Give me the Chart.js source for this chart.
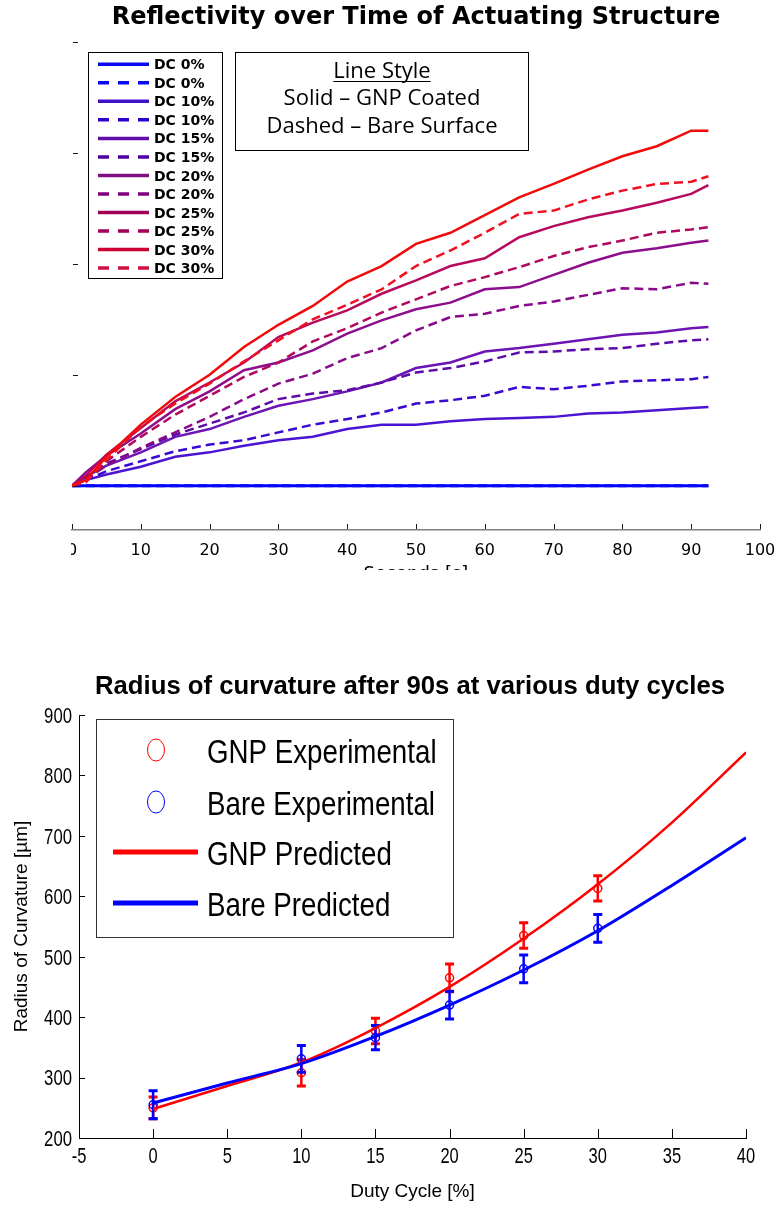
<!DOCTYPE html>
<html>
<head>
<meta charset="utf-8">
<script src="https://cdn.jsdelivr.net/npm/chart.js@4.4.1/dist/chart.umd.min.js"></script>
<style>
  body { margin: 0; background: #fff; width: 781px; height: 1209px; position: relative; overflow: hidden; }
  #topWrap { position: absolute; left: 0; top: 0; width: 781px; height: 570px; overflow: hidden; }
  #topWrap canvas { position: absolute; left: 0; top: 0; }
  #radiusChart { position: absolute; left: 0; top: 640px; }
</style>
</head>
<body>
<div id="topWrap"><canvas id="reflChart" width="781" height="600"></canvas></div>
<canvas id="radiusChart" width="781" height="569"></canvas>
<script>
// ---- top chart: reflectivity vs time (unlabelled y units)
const seconds = [0, 2, 5, 10, 15, 20, 25, 30, 35, 40, 45, 50, 55, 60, 65, 70, 75, 80, 85, 90, 92.5];
const dc0Gnp   = [0, 0, 0, 0, 0, 0, 0, 0, 0, 0, 0, 0, 0, 0, 0, 0, 0, 0, 0, 0, 0];
const dc0Bare  = [0, 0, 0, 0, 0, 0, 0, 0, 0, 0, 0, 0, 0, 0, 0, 0, 0, 0, 0, 0, 0];
const dc10Gnp  = [0, 0.05, 0.10, 0.17, 0.26, 0.30, 0.36, 0.41, 0.44, 0.51, 0.55, 0.55, 0.58, 0.60, 0.61, 0.62, 0.65, 0.66, 0.68, 0.70, 0.71];
const dc10Bare = [0, 0.05, 0.13, 0.22, 0.31, 0.37, 0.41, 0.48, 0.55, 0.60, 0.66, 0.74, 0.77, 0.81, 0.89, 0.87, 0.90, 0.94, 0.95, 0.96, 0.98];
const dc15Gnp  = [0, 0.08, 0.18, 0.30, 0.44, 0.51, 0.62, 0.72, 0.78, 0.85, 0.93, 1.06, 1.11, 1.21, 1.24, 1.28, 1.32, 1.36, 1.38, 1.42, 1.43];
const dc15Bare = [0, 0.07, 0.20, 0.33, 0.46, 0.56, 0.66, 0.78, 0.83, 0.86, 0.93, 1.02, 1.06, 1.12, 1.20, 1.21, 1.23, 1.24, 1.28, 1.31, 1.32];
const dc20Gnp  = [0, 0.12, 0.27, 0.47, 0.69, 0.85, 1.04, 1.11, 1.22, 1.37, 1.49, 1.59, 1.65, 1.77, 1.79, 1.90, 2.01, 2.10, 2.14, 2.19, 2.21];
const dc20Bare = [0, 0.06, 0.18, 0.34, 0.48, 0.62, 0.78, 0.92, 1.01, 1.15, 1.24, 1.40, 1.52, 1.55, 1.62, 1.66, 1.72, 1.78, 1.77, 1.83, 1.82];
const dc25Gnp  = [0, 0.09, 0.28, 0.52, 0.76, 0.93, 1.11, 1.34, 1.47, 1.58, 1.73, 1.85, 1.98, 2.05, 2.24, 2.34, 2.42, 2.48, 2.55, 2.63, 2.71];
const dc25Bare = [0, 0.05, 0.22, 0.44, 0.64, 0.81, 0.98, 1.11, 1.30, 1.42, 1.56, 1.68, 1.80, 1.88, 1.97, 2.07, 2.15, 2.21, 2.28, 2.31, 2.33];
const dc30Gnp  = [0, 0.05, 0.26, 0.55, 0.80, 1.00, 1.25, 1.45, 1.62, 1.84, 1.98, 2.18, 2.28, 2.44, 2.60, 2.72, 2.85, 2.97, 3.06, 3.20, 3.20];
const dc30Bare = [0, 0.03, 0.23, 0.53, 0.74, 0.92, 1.12, 1.31, 1.50, 1.63, 1.77, 1.98, 2.12, 2.28, 2.45, 2.48, 2.58, 2.66, 2.72, 2.74, 2.79];
const dcLabels = ['DC 0%', 'DC 0%', 'DC 10%', 'DC 10%', 'DC 15%', 'DC 15%', 'DC 20%', 'DC 20%', 'DC 25%', 'DC 25%', 'DC 30%', 'DC 30%'];
const reflYTicks = [0, 1, 2, 3, 4];

// ---- bottom chart: radius of curvature vs duty cycle
const dutyCycle = [0, 10, 15, 20, 25, 30];
const gnpExp  = [250, 308, 377, 465, 535, 613];
const gnpErr  = [18, 22, 21, 23, 21, 21];
const bareExp = [255, 331, 366, 420, 480, 547];
const bareErr = [23, 22, 20, 23, 23, 23];
const predDuty = [0, 5, 10, 15, 20, 25, 30, 35, 40];
const gnpPred  = [248, 286, 325, 382, 450, 530, 620, 722, 838];
const barePred = [258, 291, 323, 368, 420, 478, 543, 618, 697];

const reflSeries = [dc0Gnp, dc0Bare, dc10Gnp, dc10Bare, dc15Gnp, dc15Bare, dc20Gnp, dc20Bare, dc25Gnp, dc25Bare, dc30Gnp, dc30Bare];
const lineColors = ['#0000ff', '#0a0af2', '#4a14d2', '#3a08d0', '#6c14b4', '#5c0aa8', '#8c0e8c', '#880a88', '#b80a5c', '#b0085e', '#f00a0a', '#ee1020'];
const legendColors = ['#0a0af0', '#0a0af0', '#4010c8', '#3000cc', '#6010a8', '#5000a0', '#801080', '#800080', '#a00058', '#a00058', '#cc0030', '#d01040'];

const sans = '"Liberation Sans", Arial, sans-serif';
const pts = (xs, ys) => ys.map((v, i) => ({ x: xs[i], y: v }));

// the matlab export uses a condensed face; squeeze Liberation Sans to match
function squeezed(ctx, text, x, y, factor, align) {
  ctx.save();
  ctx.translate(x, y);
  ctx.scale(factor, 1);
  ctx.textAlign = align;
  ctx.fillText(text, 0, 0);
  ctx.restore();
}

// legend boxes + inward ticks for the top chart
const reflDecor = {
  id: 'reflDecor',
  afterDraw(chart) {
    const { ctx, chartArea: area, scales: { x, y } } = chart;
    ctx.save();
    // source image was cropped just left of the plot
    ctx.fillStyle = '#fff';
    ctx.fillRect(0, area.bottom + 2, area.left - 1, chart.height - area.bottom);

    ctx.strokeStyle = '#1a1a1a';
    ctx.lineWidth = 1;
    ctx.beginPath();
    x.ticks.forEach(t => {
      const px = Math.round(x.getPixelForValue(t.value)) + 0.5;
      ctx.moveTo(px, area.bottom - 1);
      ctx.lineTo(px, area.bottom - 6);
    });
    reflYTicks.forEach(v => {
      const py = Math.round(y.getPixelForValue(v)) + 0.5;
      ctx.moveTo(area.left + 1, py);
      ctx.lineTo(area.left + 6, py);
    });
    ctx.stroke();

    // series legend
    ctx.fillStyle = '#fff';
    ctx.fillRect(88, 52, 134, 226);
    ctx.strokeStyle = '#000';
    ctx.strokeRect(88.5, 52.5, 134, 226);
    ctx.font = 'bold 14px "DejaVu Sans"';
    ctx.textBaseline = 'alphabetic';
    ctx.textAlign = 'left';
    chart.data.datasets.forEach((ds, i) => {
      const cy = 64.3 + i * 18.52;
      ctx.strokeStyle = legendColors[i];
      ctx.lineWidth = 3.5;
      ctx.setLineDash(ds.borderDash.length ? [11, 9] : []);
      ctx.beginPath();
      ctx.moveTo(98, cy);
      ctx.lineTo(149, cy);
      ctx.stroke();
      ctx.setLineDash([]);
      ctx.fillStyle = '#000';
      ctx.fillText(ds.label, 154, cy + 5.1);
    });

    // line style note
    ctx.fillStyle = '#fff';
    ctx.fillRect(235, 52, 293, 98);
    ctx.strokeStyle = '#000';
    ctx.lineWidth = 1;
    ctx.strokeRect(235.5, 52.5, 293, 98);
    ctx.fillStyle = '#000';
    ctx.font = '22px "Open Sans"';
    ctx.textAlign = 'center';
    ctx.fillText('Line Style', 382, 78.3);
    const w = ctx.measureText('Line Style').width;
    ctx.beginPath();
    ctx.moveTo(382 - w / 2, 81.5);
    ctx.lineTo(382 + w / 2, 81.5);
    ctx.stroke();
    ctx.fillText('Solid \u2013 GNP Coated', 382, 105);
    ctx.fillText('Dashed \u2013 Bare Surface', 382, 133);
    ctx.restore();
  }
};

new Chart(document.getElementById('reflChart'), {
  type: 'line',
  data: {
    datasets: reflSeries.map((vals, i) => ({
      label: dcLabels[i],
      data: pts(seconds, vals),
      borderColor: lineColors[i],
      borderWidth: i < 2 ? 3 : 2.5,
      borderDash: i % 2 ? [9, 5] : [],
      pointRadius: 0,
      tension: 0,
      order: -i
    }))
  },
  options: {
    responsive: false,
    animation: false,
    layout: { padding: { left: 72, right: 21, top: 0, bottom: 0 } },
    plugins: {
      legend: { display: false },
      tooltip: { enabled: false },
      title: {
        display: true,
        text: 'Reflectivity over Time of Actuating Structure',
        color: '#000',
        font: { family: '"DejaVu Sans"', size: 24, weight: 'bold' },
        padding: { top: 3.6, bottom: 9.6 }
      }
    },
    scales: {
      x: {
        type: 'linear', min: 0, max: 100,
        ticks: { stepSize: 10, color: '#000', font: { family: '"DejaVu Sans"', size: 16 }, padding: 3, maxRotation: 0, autoSkip: false },
        grid: { display: false },
        border: { display: true, color: '#808080', width: 1.5 },
        title: { display: true, text: 'Seconds [s]', color: '#000', font: { family: '"DejaVu Sans"', size: 18 }, padding: { top: 0, bottom: 15 } },
        afterFit: s => { s.height = 70; }
      },
      y: { display: false, min: -0.4, max: 4 }
    }
  },
  plugins: [reflDecor]
});

// error bars, tick labels, inward ticks, title and legend for the bottom chart
const radiusDecor = {
  id: 'radiusDecor',
  afterDatasetDraw(chart, args) {
    const ds = chart.data.datasets[args.index];
    if (!ds.errors) return;
    const { ctx, scales: { x, y } } = chart;
    ctx.save();
    ctx.strokeStyle = ds.borderColor;
    ds.data.forEach((p, i) => {
      const px = x.getPixelForValue(p.x);
      const top = y.getPixelForValue(p.y + ds.errors[i]);
      const bot = y.getPixelForValue(p.y - ds.errors[i]);
      ctx.lineWidth = 2.5;
      ctx.beginPath();
      ctx.moveTo(px, top);
      ctx.lineTo(px, bot);
      ctx.stroke();
      ctx.lineWidth = 3;
      ctx.beginPath();
      ctx.moveTo(px - 4.5, top);
      ctx.lineTo(px + 4.5, top);
      ctx.moveTo(px - 4.5, bot);
      ctx.lineTo(px + 4.5, bot);
      ctx.stroke();
    });
    ctx.restore();
  },
  afterDraw(chart) {
    const { ctx, chartArea: area, scales: { x, y } } = chart;
    ctx.save();
    ctx.strokeStyle = '#000';
    ctx.lineWidth = 1;
    ctx.beginPath();
    x.ticks.forEach(t => {
      const px = Math.round(x.getPixelForValue(t.value)) + 0.5;
      ctx.moveTo(px, area.bottom);
      ctx.lineTo(px, area.bottom - 9);
    });
    y.ticks.forEach(t => {
      const py = Math.round(y.getPixelForValue(t.value)) + 0.5;
      ctx.moveTo(area.left, py);
      ctx.lineTo(area.left + 6, py);
    });
    ctx.stroke();

    // tick labels
    ctx.fillStyle = '#000';
    ctx.font = '22px ' + sans;
    ctx.textBaseline = 'alphabetic';
    x.ticks.forEach(t => {
      squeezed(ctx, String(t.value), x.getPixelForValue(t.value), area.bottom + 25, 0.75, 'center');
    });
    y.ticks.forEach(t => {
      squeezed(ctx, String(t.value), area.left - 7, y.getPixelForValue(t.value) + 7.9, 0.76, 'right');
    });

    // title
    const titleText = 'Radius of curvature after 90s at various duty cycles';
    ctx.font = 'bold 26px ' + sans;
    const tw = ctx.measureText(titleText).width;
    squeezed(ctx, titleText, 410, 54.3, 630 / tw, 'center');

    // legend
    ctx.fillStyle = '#fff';
    ctx.fillRect(96, 79, 357, 218);
    ctx.strokeStyle = '#333';
    ctx.strokeRect(96.5, 79.5, 357, 218);
    const rows = [110, 162, 212, 263];
    chart.data.datasets.forEach((d, i) => {
      const cy = rows[i];
      ctx.strokeStyle = d.borderColor;
      if (d.showLine === false) {
        ctx.lineWidth = 1;
        ctx.beginPath();
        ctx.ellipse(156, cy, 8.5, 11, 0, 0, Math.PI * 2);
        ctx.stroke();
      } else {
        ctx.lineWidth = 5;
        ctx.beginPath();
        ctx.moveTo(113, cy);
        ctx.lineTo(198, cy);
        ctx.stroke();
      }
      ctx.fillStyle = '#000';
      ctx.font = '33px ' + sans;
      squeezed(ctx, d.label, 207, cy + 12.5, 0.84, 'left');
    });
    ctx.restore();
  }
};

new Chart(document.getElementById('radiusChart'), {
  type: 'line',
  data: {
    datasets: [
      { label: 'GNP Experimental', data: pts(dutyCycle, gnpExp), errors: gnpErr, showLine: false,
        borderColor: '#ff0000', backgroundColor: 'rgba(0,0,0,0)', pointRadius: 4, pointBorderWidth: 1.5, order: 3 },
      { label: 'Bare Experimental', data: pts(dutyCycle, bareExp), errors: bareErr, showLine: false,
        borderColor: '#0000ff', backgroundColor: 'rgba(0,0,0,0)', pointRadius: 4, pointBorderWidth: 1.5, order: 2 },
      { label: 'GNP Predicted', data: pts(predDuty, gnpPred), borderColor: '#ff0000', borderWidth: 2.5,
        pointRadius: 0, tension: 0.3, order: 1 },
      { label: 'Bare Predicted', data: pts(predDuty, barePred), borderColor: '#0000ff', borderWidth: 3,
        pointRadius: 0, tension: 0.3, order: 0 }
    ]
  },
  options: {
    responsive: false,
    animation: false,
    layout: { padding: { left: 0, right: 35, top: 75, bottom: 0 } },
    plugins: {
      legend: { display: false },
      tooltip: { enabled: false },
      title: { display: false }
    },
    scales: {
      x: {
        type: 'linear', min: -5, max: 40,
        ticks: { stepSize: 5, display: false, autoSkip: false },
        grid: { display: false },
        border: { display: true, color: '#000', width: 1 },
        title: { display: true, text: 'Duty Cycle [%]', color: '#000', font: { family: sans, size: 19 }, padding: { top: 0, bottom: 5.6 } },
        afterFit: s => { s.height = 71; }
      },
      y: {
        min: 200, max: 900,
        ticks: { stepSize: 100, display: false },
        grid: { display: false },
        border: { display: true, color: '#000', width: 1 },
        title: { display: true, text: 'Radius of Curvature [\u00b5m]', color: '#000', font: { family: sans, size: 19 }, padding: { top: 10.6, bottom: 0 } },
        afterFit: s => { s.width = 79; }
      }
    }
  },
  plugins: [radiusDecor]
});
</script>
</body>
</html>
